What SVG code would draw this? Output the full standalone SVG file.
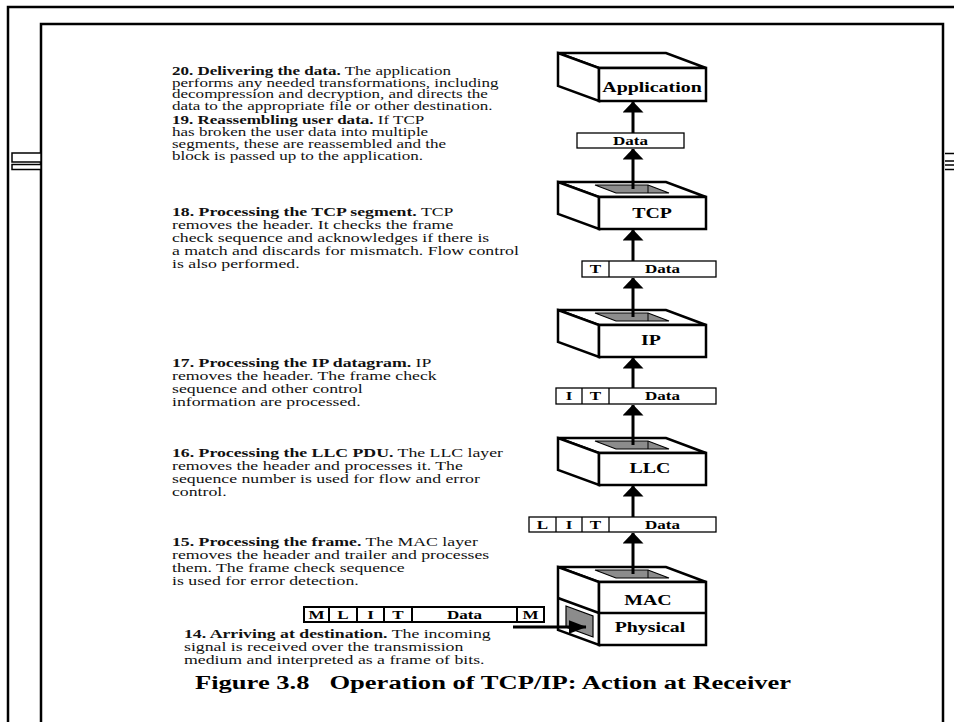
<svg xmlns="http://www.w3.org/2000/svg" width="954" height="722" viewBox="0 0 954 722">
<style>
.t{font-family:"Liberation Serif","Times New Roman",serif;font-size:12.5px;fill:#111}
.t2{font-family:"Liberation Serif","Times New Roman",serif;font-size:12px;fill:#111}
.b{font-weight:bold}
.lbl{font-family:"Liberation Serif","Times New Roman",serif;font-size:14px;font-weight:bold;text-anchor:middle;fill:#000}
.pk{font-family:"Liberation Serif","Times New Roman",serif;font-size:12px;font-weight:bold;text-anchor:middle;fill:#000}
.cap{font-family:"Liberation Serif","Times New Roman",serif;font-size:18.5px;font-weight:bold;fill:#000}
.box{fill:#fff;stroke:#000;stroke-width:2.5;stroke-linejoin:miter}
.hole{fill:#8c8c8c;stroke:#000;stroke-width:1.2}
.pkt{fill:#fff;stroke:#000;stroke-width:1.3}
.frm{fill:#fff;stroke:#000;stroke-width:2}
.ln{stroke:#000;stroke-width:3;fill:none}
.frame{fill:none;stroke:#000;stroke-width:2.5}
</style>
<defs>
<marker id="ah" viewBox="0 0 11 21" refX="10.5" refY="10.5" markerWidth="11" markerHeight="21" markerUnits="userSpaceOnUse" orient="auto"><path d="M0,0 L11,10.5 L0,21 Z" fill="#000"/></marker>
<marker id="ah2" viewBox="0 0 18 14" refX="17.5" refY="7" markerWidth="18" markerHeight="14" markerUnits="userSpaceOnUse" orient="auto"><path d="M0,0 L18,7 L0,14 Z" fill="#000"/></marker>
</defs>
<rect width="954" height="722" fill="#fff"/>
<g id="page-frame">
<path class="frame" d="M8,722 V7 H954"/>
<path class="frame" d="M41,722 V24 H943 V722"/>
<rect x="12" y="153" width="29" height="9" fill="#fff" stroke="#000" stroke-width="1.5"/>
<rect x="12" y="164.5" width="29" height="5" fill="#fff" stroke="#000" stroke-width="1.5"/>
<path d="M945,153.5 H954 M945,161 H954 M945,165 H954 M945,169.5 H954" stroke="#000" stroke-width="1.6"/>
</g>
<g id="app">
<polygon class="box" points="558,53 666,53 706,68 599,68"/>
<polygon class="box" points="558,53 599,68 599,101 558,86"/>
<rect class="box" x="599" y="68" width="107" height="33"/>
<text class="lbl" transform="matrix(1.42 0 0 1 652 92)">Application</text>
</g>
<g id="tcp">
<polygon class="box" points="558,182 666,182 706,197 599,197"/>
<polygon class="box" points="558,182 599,197 599,229 558,214"/>
<rect class="box" x="599" y="197" width="107" height="32"/>
<polygon class="hole" points="595,185 648,185 669,193 616,193"/>
<line x1="648" y1="185" x2="648" y2="193" stroke="#000" stroke-width="1"/>
<text class="lbl" transform="matrix(1.42 0 0 1 652 218)">TCP</text>
</g>
<g id="ip">
<polygon class="box" points="558,310 666,310 706,325 599,325"/>
<polygon class="box" points="558,310 599,325 599,357 558,342"/>
<rect class="box" x="599" y="325" width="107" height="32"/>
<polygon class="hole" points="595,313 648,313 669,321 616,321"/>
<line x1="648" y1="313" x2="648" y2="321" stroke="#000" stroke-width="1"/>
<text class="lbl" transform="matrix(1.42 0 0 1 651 345)">IP</text>
</g>
<g id="llc">
<polygon class="box" points="558,438 666,438 706,453 599,453"/>
<polygon class="box" points="558,438 599,453 599,485 558,470"/>
<rect class="box" x="599" y="453" width="107" height="32"/>
<polygon class="hole" points="595,441 648,441 669,449 616,449"/>
<line x1="648" y1="441" x2="648" y2="449" stroke="#000" stroke-width="1"/>
<text class="lbl" transform="matrix(1.42 0 0 1 650 473)">LLC</text>
</g>
<g id="mac">
<polygon class="box" points="558,567 666,567 706,582 599,582"/>
<polygon class="box" points="558,567 599,582 599,645 558,630"/>
<rect class="box" x="599" y="582" width="107" height="63"/>
<line x1="599" y1="613" x2="706" y2="613" stroke="#000" stroke-width="2.5"/>
<line x1="558" y1="598" x2="599" y2="613" stroke="#000" stroke-width="2.5"/>
<polygon class="hole" points="595,570 648,570 669,578 616,578"/>
<line x1="648" y1="570" x2="648" y2="578" stroke="#000" stroke-width="1"/>
<polygon class="hole" points="566,606 593,616 593,637 566,627" stroke-width="2"/>
<text class="lbl" transform="matrix(1.42 0 0 1 648 605)">MAC</text>
<text class="lbl" transform="matrix(1.42 0 0 1 650 632)">Physical</text>
</g>
<g id="pkt-data">
<rect class="pkt" x="577" y="133" width="107" height="15"/>
<text class="pk" transform="matrix(1.42 0 0 1 630.5 145)">Data</text>
</g>
<g id="pkt-tcp">
<rect class="pkt" x="582" y="261" width="134" height="16"/>
<line x1="609" y1="261" x2="609" y2="277" stroke="#000" stroke-width="1.3"/>
<text class="pk" transform="matrix(1.42 0 0 1 595.5 273)">T</text>
<text class="pk" transform="matrix(1.42 0 0 1 662.5 273)">Data</text>
</g>
<g id="pkt-ip">
<rect class="pkt" x="556" y="388" width="160" height="16"/>
<path d="M582,388 V404 M609,388 V404" stroke="#000" stroke-width="1.3"/>
<text class="pk" transform="matrix(1.42 0 0 1 569 400)">I</text>
<text class="pk" transform="matrix(1.42 0 0 1 595.5 400)">T</text>
<text class="pk" transform="matrix(1.42 0 0 1 662.5 400)">Data</text>
</g>
<g id="pkt-llc">
<rect class="pkt" x="529" y="517" width="187" height="15"/>
<path d="M556,517 V532 M582,517 V532 M609,517 V532" stroke="#000" stroke-width="1.3"/>
<text class="pk" transform="matrix(1.42 0 0 1 542.5 528.5)">L</text>
<text class="pk" transform="matrix(1.42 0 0 1 569 528.5)">I</text>
<text class="pk" transform="matrix(1.42 0 0 1 595.5 528.5)">T</text>
<text class="pk" transform="matrix(1.42 0 0 1 662.5 528.5)">Data</text>
</g>
<g id="pkt-frame">
<rect class="frm" x="304" y="607" width="240" height="15"/>
<path d="M329,607 V622 M357,607 V622 M384,607 V622 M412,607 V622 M517,607 V622" stroke="#000" stroke-width="2"/>
<text class="pk" transform="matrix(1.42 0 0 1 316.5 619)">M</text>
<text class="pk" transform="matrix(1.42 0 0 1 343 619)">L</text>
<text class="pk" transform="matrix(1.42 0 0 1 370.5 619)">I</text>
<text class="pk" transform="matrix(1.42 0 0 1 398 619)">T</text>
<text class="pk" transform="matrix(1.42 0 0 1 464.5 619)">Data</text>
<text class="pk" transform="matrix(1.42 0 0 1 530.5 619)">M</text>
</g>
<g id="connectors">
<line class="ln" x1="633" y1="133" x2="633" y2="102" marker-end="url(#ah)"/>
<line class="ln" x1="633" y1="189" x2="633" y2="149" marker-end="url(#ah)"/>
<line class="ln" x1="633" y1="261" x2="633" y2="230" marker-end="url(#ah)"/>
<line class="ln" x1="633" y1="317" x2="633" y2="278" marker-end="url(#ah)"/>
<line class="ln" x1="633" y1="388" x2="633" y2="358" marker-end="url(#ah)"/>
<line class="ln" x1="633" y1="445" x2="633" y2="405" marker-end="url(#ah)"/>
<line class="ln" x1="633" y1="517" x2="633" y2="486" marker-end="url(#ah)"/>
<line class="ln" x1="633" y1="574" x2="633" y2="533" marker-end="url(#ah)"/>
<line class="ln" x1="513" y1="627" x2="586" y2="627" marker-end="url(#ah2)"/>
</g>
<g id="step20">
<text class="t2" transform="matrix(1.42 0 0 1 172 75)"><tspan class="b">20. Delivering the data.</tspan> The application</text>
<text class="t2" transform="matrix(1.42 0 0 1 172 86.5)">performs any needed transformations, including</text>
<text class="t2" transform="matrix(1.42 0 0 1 172 98)">decompression and decryption, and directs the</text>
<text class="t2" transform="matrix(1.42 0 0 1 172 109.5)">data to the appropriate file or other destination.</text>
</g>
<g id="step19">
<text class="t2" transform="matrix(1.42 0 0 1 172 124)"><tspan class="b">19. Reassembling user data.</tspan> If TCP</text>
<text class="t2" transform="matrix(1.42 0 0 1 172 136)">has broken the user data into multiple</text>
<text class="t2" transform="matrix(1.42 0 0 1 172 148)">segments, these are reassembled and the</text>
<text class="t2" transform="matrix(1.42 0 0 1 172 160)">block is passed up to the application.</text>
</g>
<g id="step18">
<text class="t" transform="matrix(1.42 0 0 1 172 216)"><tspan class="b">18. Processing the TCP segment.</tspan> TCP</text>
<text class="t" transform="matrix(1.42 0 0 1 172 229)">removes the header. It checks the frame</text>
<text class="t" transform="matrix(1.42 0 0 1 172 242)">check sequence and acknowledges if there is</text>
<text class="t" transform="matrix(1.42 0 0 1 172 255)">a match and discards for mismatch. Flow control</text>
<text class="t" transform="matrix(1.42 0 0 1 172 268)">is also performed.</text>
</g>
<g id="step17">
<text class="t" transform="matrix(1.42 0 0 1 172 367)"><tspan class="b">17. Processing the IP datagram.</tspan> IP</text>
<text class="t" transform="matrix(1.42 0 0 1 172 380)">removes the header. The frame check</text>
<text class="t" transform="matrix(1.42 0 0 1 172 393)">sequence and other control</text>
<text class="t" transform="matrix(1.42 0 0 1 172 406)">information are processed.</text>
</g>
<g id="step16">
<text class="t" transform="matrix(1.42 0 0 1 172 457)"><tspan class="b">16. Processing the LLC PDU.</tspan> The LLC layer</text>
<text class="t" transform="matrix(1.42 0 0 1 172 470)">removes the header and processes it. The</text>
<text class="t" transform="matrix(1.42 0 0 1 172 483)">sequence number is used for flow and error</text>
<text class="t" transform="matrix(1.42 0 0 1 172 496)">control.</text>
</g>
<g id="step15">
<text class="t" transform="matrix(1.42 0 0 1 172 546)"><tspan class="b">15. Processing the frame.</tspan> The MAC layer</text>
<text class="t" transform="matrix(1.42 0 0 1 172 559)">removes the header and trailer and processes</text>
<text class="t" transform="matrix(1.42 0 0 1 172 572)">them. The frame check sequence</text>
<text class="t" transform="matrix(1.42 0 0 1 172 585)">is used for error detection.</text>
</g>
<g id="step14">
<text class="t" transform="matrix(1.42 0 0 1 184 638)"><tspan class="b">14. Arriving at destination.</tspan> The incoming</text>
<text class="t" transform="matrix(1.42 0 0 1 184 651)">signal is received over the transmission</text>
<text class="t" transform="matrix(1.42 0 0 1 184 664)">medium and interpreted as a frame of bits.</text>
</g>
<g id="caption">
<text class="cap" transform="matrix(1.435 0 0 1 195 689)" xml:space="preserve">Figure 3.8   Operation of TCP/IP: Action at Receiver</text>
</g>
</svg>
